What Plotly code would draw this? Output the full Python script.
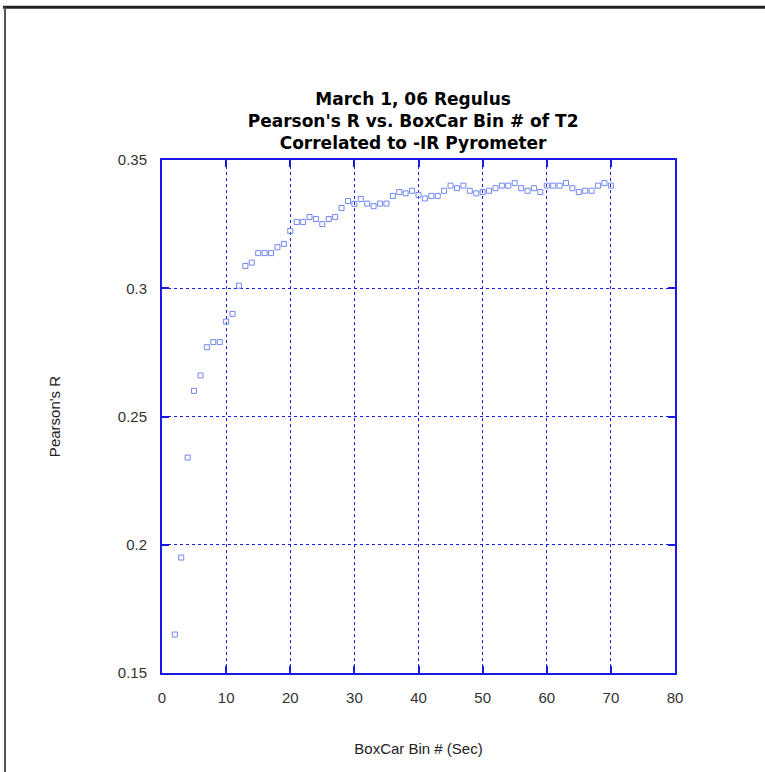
import plotly.graph_objects as go

bins = list(range(2, 71))
pearson_r = [
    0.165, 0.195, 0.234, 0.260, 0.266, 0.277, 0.279, 0.279, 0.287, 0.290,
    0.301, 0.3087, 0.310, 0.3137, 0.3137, 0.3137, 0.316, 0.3173, 0.3223,
    0.3258, 0.3258, 0.3278, 0.327, 0.325, 0.327, 0.3278, 0.3313, 0.334,
    0.3329, 0.3348, 0.333, 0.332, 0.333, 0.333, 0.336, 0.3375, 0.337, 0.338,
    0.3364, 0.335, 0.336, 0.336, 0.338, 0.340, 0.339, 0.340, 0.338, 0.337,
    0.3375, 0.338, 0.339, 0.340, 0.340, 0.341, 0.339, 0.338, 0.339, 0.3375,
    0.340, 0.340, 0.340, 0.341, 0.339, 0.3375, 0.338, 0.338, 0.340, 0.341,
    0.340,
]
x_ticks = [0, 10, 20, 30, 40, 50, 60, 70, 80]
y_ticks = [0.15, 0.2, 0.25, 0.3, 0.35]

title_lines = ["March 1, 06 Regulus", "Pearson's R vs. BoxCar Bin # of T2",
               "Correlated to -IR Pyrometer"]

BLUE = "#1a1ae6"
FONT = "Arial, Liberation Sans, sans-serif"
fig = go.Figure()
fig.add_trace(go.Scatter(
    x=bins, y=pearson_r, mode="markers",
    marker=dict(symbol="square-open", size=5, color="#7088f0",
                line=dict(width=1, color="#7088f0")),
    showlegend=False,
))

axis_common = dict(
    showline=True, linecolor=BLUE, linewidth=2, mirror="ticks",
    ticks="inside", ticklen=7, tickcolor=BLUE, tickwidth=2,
    showgrid=True, gridcolor=BLUE, gridwidth=1, griddash="dot",
    zeroline=False,
    tickfont=dict(family=FONT, size=15, color="#333333"),
)

fig.update_xaxes(range=[0, 80], tickvals=x_ticks, ticklabelstandoff=10,
                 title=dict(text="BoxCar Bin # (Sec)", standoff=38,
                            font=dict(family=FONT, size=15, color="#222222")),
                 **axis_common)
fig.update_yaxes(range=[0.15, 0.35], tickvals=y_ticks, ticklabelstandoff=10,
                 title=dict(text="Pearson's R", standoff=54,
                            font=dict(family=FONT, size=15, color="#222222")),
                 **axis_common)

fig.update_layout(
    width=765, height=772,
    margin=dict(l=162, r=90, t=160, b=99),
    paper_bgcolor="white", plot_bgcolor="white",
    title=dict(text="<br>".join(title_lines), x=0.540, xanchor="center",
               y=1 - 105 / 772, yanchor="middle",
               font=dict(family="DejaVu Sans, Verdana, sans-serif", size=17,
                         color="black", weight="bold")),
)

# outer frame lines (top and left), in paper coords
fig.add_shape(type="line", xref="paper", yref="paper",
              x0=-0.31, x1=1.2, y0=1.298, y1=1.298,
              line=dict(color="#222222", width=3))
fig.add_shape(type="line", xref="paper", yref="paper",
              x0=-0.306, x1=-0.306, y0=1.298, y1=-0.2,
              line=dict(color="#555555", width=2))

fig.write_html("out.html")
